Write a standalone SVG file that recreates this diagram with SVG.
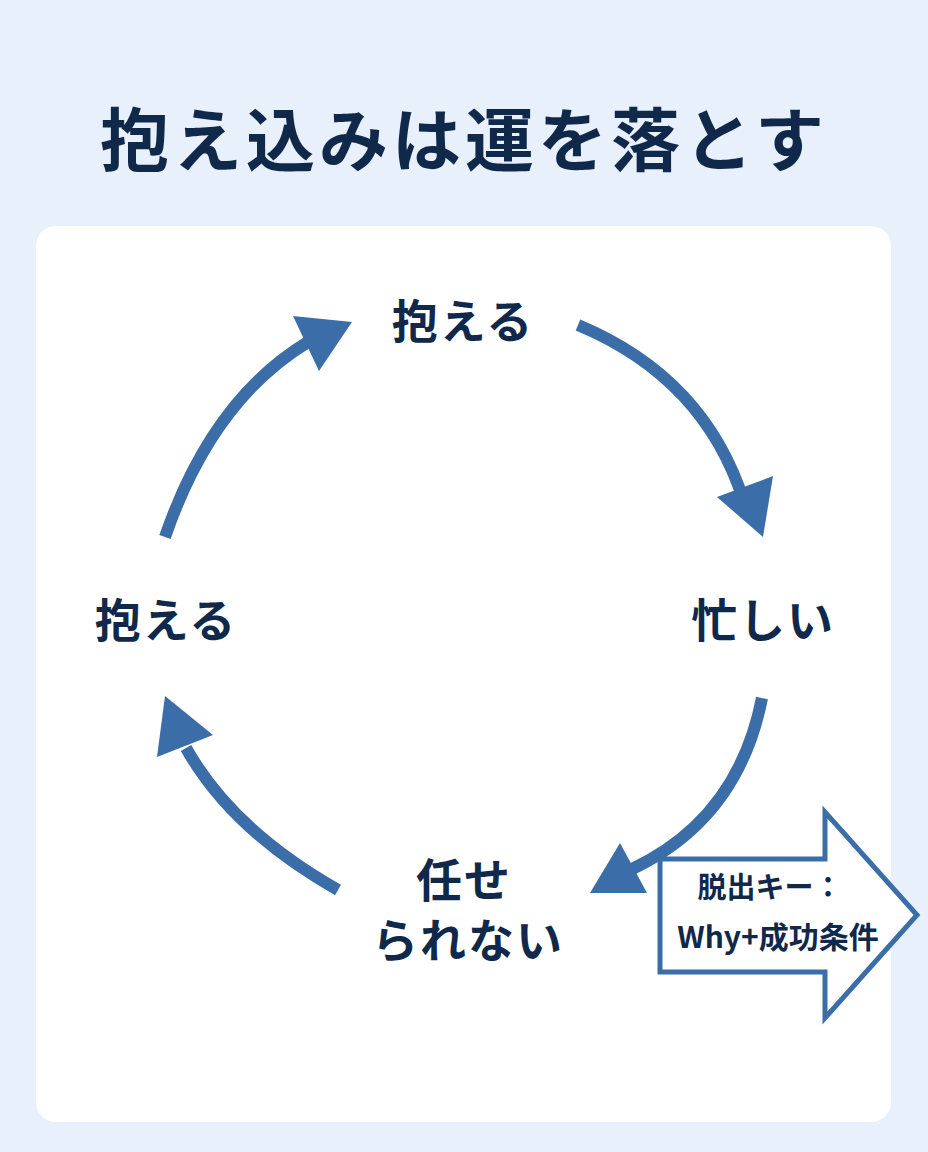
<svg xmlns="http://www.w3.org/2000/svg" width="928" height="1152" viewBox="0 0 928 1152">
<defs>
<style>
.t{font-family:"Noto Sans CJK JP","Noto Sans",sans-serif;font-weight:700;fill:#10284a;text-anchor:middle}
.node{font-size:46px;letter-spacing:2px}
.shaft{fill:none;stroke:#3b6ea8;stroke-width:12;stroke-linecap:butt}
.head{fill:#3b6ea8}
</style>
</defs>
<rect x="0" y="0" width="928" height="1152" fill="#e7f0fb"/>
<text class="t" x="464" y="166" font-size="69" letter-spacing="4">抱え込みは運を落とす</text>
<rect x="36" y="226" width="855" height="896" rx="20" fill="#ffffff"/>
<g id="connectors">
<path class="shaft" d="M165,537 Q212,400 308,342"/>
<polygon class="head" points="293,316 352,322 319,371"/>
<path class="shaft" d="M578,325 Q705,378 744,502"/>
<polygon class="head" points="717,497 773,476 763,537"/>
<path class="shaft" d="M762,698 Q738,820 630,870"/>
<polygon class="head" points="590,893 620,843 647,893"/>
<path class="shaft" d="M338,890 Q232,830 186,748"/>
<polygon class="head" points="165,696 157,757 213,735"/>
</g>
<g id="node-top"><text class="t node" x="463" y="338">抱える</text></g>
<g id="node-left"><text class="t node" x="166" y="637">抱える</text></g>
<g id="node-right"><text class="t node" x="763" y="637">忙しい</text></g>
<g id="node-bottom"><text class="t node" x="464" y="897">任せ</text><text class="t node" x="468" y="957">られない</text></g>
<g id="exit">
<polygon points="660,859 825,859 825,812 917,915 825,1018 825,972 660,972" fill="#ffffff" stroke="#3b6ea8" stroke-width="5" stroke-linejoin="miter"/>
<text class="t" x="770" y="898" font-size="29">脱出キー：</text>
<text class="t" x="778" y="948" font-size="30">Why+成功条件</text>
</g>
</svg>
